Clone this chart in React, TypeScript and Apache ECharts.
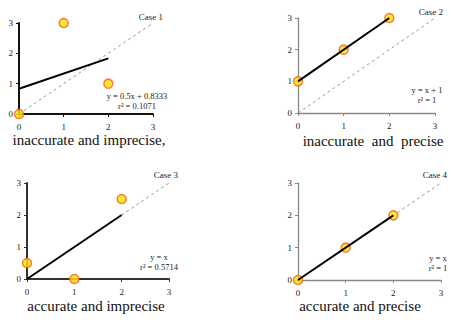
import React, { useEffect, useRef } from "react";
import * as echarts from "echarts";

const ticks = [0, 1, 2, 3];
const case1Points = [[0, 0], [1, 3], [2, 1]];
const case2Points = [[0, 1], [1, 2], [2, 3]];
const case3Points = [[0, 0.5], [1, 0], [2, 2.5]];
const case4Points = [[0, 0], [1, 1], [2, 2]];
const fitLines = [
  [[0, 0.8333], [2, 1.8333]],
  [[0, 1], [2, 3]],
  [[0, 0], [2, 2]],
  [[0, 0], [2, 2]],
];
const identityLine = [[0, 0], [3, 3]];
const caseNames = ["Case 1", "Case 2", "Case 3", "Case 4"];
const equations = [
  ["y = 0.5x + 0.8333", "r² = 0.1071"],
  ["y = x + 1", "r² = 1"],
  ["y = x", "r² = 0.5714"],
  ["y = x", "r² = 1"],
];
const captions = [
  "inaccurate and imprecise,",
  "inaccurate  and  precise",
  "accurate and imprecise",
  "accurate and precise",
];

const grids = [
  { left: 19, top: 23, width: 134, height: 91 },
  { left: 298, top: 18, width: 137, height: 95 },
  { left: 27, top: 183, width: 142, height: 96 },
  { left: 298, top: 183, width: 143, height: 97 },
];
const axisColors = ["#111", "#888", "#333", "#888"];
const axisWidths = [2, 1.3, 2, 1.3];

export default function App() {
  const ref = useRef<HTMLDivElement>(null);
  useEffect(() => {
    const chart = echarts.init(ref.current!, null, { renderer: "svg" });
    const pointSets = [case1Points, case2Points, case3Points, case4Points];
    const font = "'Liberation Serif', 'Times New Roman', serif";
    const xAxis: any[] = [];
    const yAxis: any[] = [];
    const series: any[] = [];
    const graphic: any[] = [];
    grids.forEach((g, i) => {
      const common = {
        gridIndex: i,
        type: "value",
        min: ticks[0],
        max: ticks[ticks.length - 1],
        interval: 1,
        splitLine: { show: false },
        axisLine: { show: true, lineStyle: { color: axisColors[i], width: axisWidths[i] } },
        axisTick: { show: true, length: 3, lineStyle: { color: axisColors[i] } },
        axisLabel: { fontFamily: font, fontSize: 9, color: "#222", margin: 6 },
      };
      xAxis.push({ ...common, axisLabel: { ...common.axisLabel, margin: 8 } });
      yAxis.push({ ...common });
      series.push({
        type: "line",
        xAxisIndex: i,
        yAxisIndex: i,
        data: identityLine,
        symbol: "none",
        lineStyle: { color: "#999", width: 1, type: [3, 3] },
        z: 1,
      });
      series.push({
        type: "scatter",
        xAxisIndex: i,
        yAxisIndex: i,
        data: pointSets[i],
        symbolSize: 9,
        itemStyle: { color: "#FFE600", borderColor: "#FF5A1F", borderWidth: 1.5 },
        z: 2,
      });
      series.push({
        type: "line",
        xAxisIndex: i,
        yAxisIndex: i,
        data: fitLines[i],
        symbol: "none",
        lineStyle: { color: "#000", width: 2 },
        z: 3,
      });
    });
    const casePos = [[163, 17], [443, 12], [178, 175], [447, 175]];
    const eqPos = [[137, 96], [427, 90], [159, 257], [438, 258]];
    const capPos = [[89, 140], [373, 141], [96, 306], [360, 306]];
    for (let i = 0; i < 4; i++) {
      graphic.push({
        type: "text",
        x: casePos[i][0],
        y: casePos[i][1],
        style: { text: caseNames[i], fontFamily: font, fontSize: 9, fill: "#222", align: "right", verticalAlign: "middle" },
      });
      graphic.push({
        type: "text",
        x: eqPos[i][0],
        y: eqPos[i][1],
        style: { text: equations[i][0], fontFamily: font, fontSize: 8.5, fill: "#222", align: "center", verticalAlign: "middle" },
      });
      graphic.push({
        type: "text",
        x: eqPos[i][0],
        y: eqPos[i][1] + 10,
        style: { text: equations[i][1], fontFamily: font, fontSize: 8.5, fill: "#222", align: "center", verticalAlign: "middle" },
      });
      graphic.push({
        type: "text",
        x: capPos[i][0],
        y: capPos[i][1],
        style: { text: captions[i], fontFamily: font, fontSize: 15, fill: "#111", align: "center", verticalAlign: "middle" },
      });
    }
    chart.setOption({
      animation: false,
      backgroundColor: "#fff",
      grid: grids,
      xAxis,
      yAxis,
      series,
      graphic,
    });
    return () => chart.dispose();
  }, []);
  return <div ref={ref} style={{ position: "fixed", left: 0, top: 0, width: 451, height: 320 }} />;
}
